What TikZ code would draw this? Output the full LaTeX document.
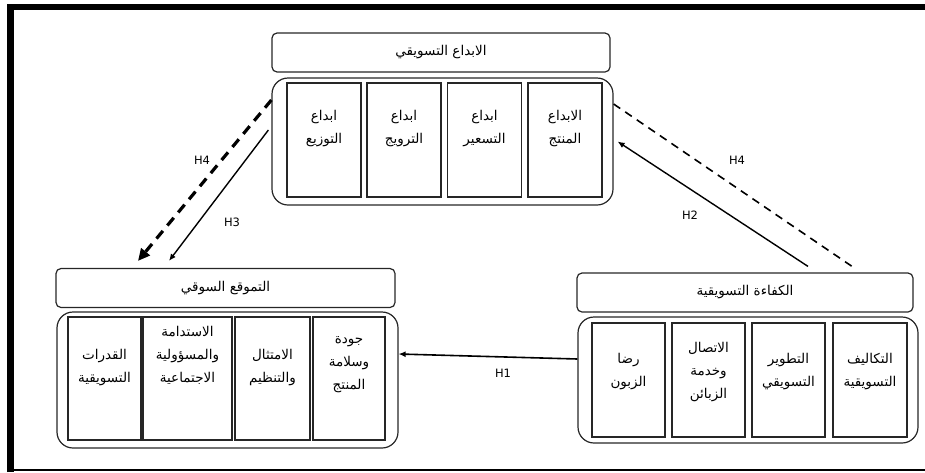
\documentclass[tikz,border=0pt]{standalone}
\usepackage{fontspec}
\setmainfont{DejaVu Sans}
\newfontfamily\arabicfont[Script=Arabic]{DejaVu Sans}
\TeXXeTstate=1
\usetikzlibrary{arrows.meta}
\newcommand{\artx}[1]{\beginR #1\endR}

\begin{document}
\begin{tikzpicture}[x=1pt,y=-1pt,>={Latex[length=7pt,width=6pt]},font=\fontsize{11.5}{13}\selectfont]
\tikzstyle{hd}=[draw=black!85,line width=1.2pt,rounded corners=5pt,minimum height=39pt,inner sep=0pt,font=\arabicfont\fontsize{13.5}{15}\selectfont]
\tikzstyle{grp}=[draw=black!85,line width=1.2pt,rounded corners=16pt,inner sep=0pt]
\tikzstyle{cell}=[draw=black!85,line width=1.2pt,minimum width=74pt,inner sep=0pt]
\tikzstyle{txt}=[align=center,inner sep=0pt,font=\arabicfont\fontsize{13.5}{23}\selectfont]
\useasboundingbox (0,0) rectangle (925,472);
% frame
\draw[line width=6.5pt,line join=miter] (10.5,472) -- (10.5,7) -- (925,7);
\draw[line width=1.5pt] (10.5,470) -- (925,470);

% marketing innovation
\node[hd,minimum width=338pt] (thd) at (441,52.5) {\artx{الابداع التسويقي}};
\node[grp,minimum width=341pt,minimum height=127pt] (tgrp) at (442.5,141.5) {};
\node[cell,minimum height=114pt] (t1) at (324,140) {};
\node[cell,minimum height=114pt] (t2) at (404,140) {};
\node[cell,minimum height=114pt] (t3) at (484.5,140) {};
\node[cell,minimum height=114pt] (t4) at (565,140) {};
\node[txt] (t1x) at (324,129) {\artx{ابداع}\\\artx{التوزيع}};
\node[txt] (t2x) at (404,129) {\artx{ابداع}\\\artx{الترويج}};
\node[txt] (t3x) at (484.5,129) {\artx{ابداع}\\\artx{التسعير}};
\node[txt] (t4x) at (565,129) {\artx{الابداع}\\\artx{المنتج}};

% market positioning
\node[hd,minimum width=339pt] (lhd) at (225.5,288) {\artx{التموقع السوقي}};
\node[grp,minimum width=341pt,minimum height=136pt] (lgrp) at (227.5,380) {};
\node[cell,minimum height=123pt,minimum width=73pt] (l1) at (104.5,378.5) {};
\node[cell,minimum height=123pt,minimum width=89pt] (l2) at (187.5,378.5) {};
\node[cell,minimum height=123pt,minimum width=75pt] (l3) at (272.5,378.5) {};
\node[cell,minimum height=123pt,minimum width=72pt] (l4) at (349,378.5) {};
\node[txt] (l1x) at (104.5,367.5) {\artx{القدرات}\\\artx{التسويقية}};
\node[txt] (l2x) at (187.5,355) {\artx{الاستدامة}\\\artx{والمسؤولية}\\\artx{الاجتماعية}};
\node[txt] (l3x) at (272.5,367.5) {\artx{الامتثال}\\\artx{والتنظيم}};
\node[txt] (l4x) at (349,365) {\artx{جودة}\\\artx{وسلامة}\\\artx{المنتج}};

% marketing efficiency
\node[hd,minimum width=336pt] (rhd) at (745,292.5) {\artx{الكفاءة التسويقية}};
\node[grp,minimum width=340pt,minimum height=126pt] (rgrp) at (748,380) {};
\node[cell,minimum height=114pt,minimum width=73pt] (r1) at (628.5,380) {};
\node[cell,minimum height=114pt,minimum width=73pt] (r2) at (708.5,380) {};
\node[cell,minimum height=114pt,minimum width=73pt] (r3) at (788.5,380) {};
\node[cell,minimum height=114pt,minimum width=74pt] (r4) at (870,380) {};
\node[txt] (r1x) at (628.5,372) {\artx{رضا}\\\artx{الزبون}};
\node[txt] (r2x) at (708.5,372) {\artx{الاتصال}\\\artx{وخدمة}\\\artx{الزبائن}};
\node[txt] (r3x) at (788.5,372) {\artx{التطوير}\\\artx{التسويقي}};
\node[txt] (r4x) at (870,372) {\artx{التكاليف}\\\artx{التسويقية}};

% hypotheses
\draw[->,line width=1.6pt] ([yshift=21pt]rgrp.west) -- ([yshift=26pt]lgrp.east);
\draw[->,line width=1.4pt] ([xshift=63pt,yshift=6pt]rhd.north) -- ([xshift=4pt]tgrp.east);
\draw[line width=1.6pt,dash pattern=on 8pt off 6pt] ([yshift=37.5pt]tgrp.east) -- ([xshift=107pt,yshift=6pt]rhd.north);
\draw[-{Triangle[length=12pt,width=11pt]},line width=3.2pt,dash pattern=on 10pt off 7pt] ([yshift=41.5pt]tgrp.west) -- ([xshift=-87.5pt,yshift=7pt]lhd.north);
\draw[->,line width=1.4pt] ([xshift=-3pt,yshift=11.5pt]tgrp.west) -- ([xshift=-56.5pt,yshift=7pt]lhd.north);
\node (h1) at (503,373) {H1};
\node (h2) at (690,215) {H2};
\node (h3) at (232,222) {H3};
\node (h4l) at (202,160) {H4};
\node (h4r) at (737,160) {H4};
\end{tikzpicture}
\end{document}
